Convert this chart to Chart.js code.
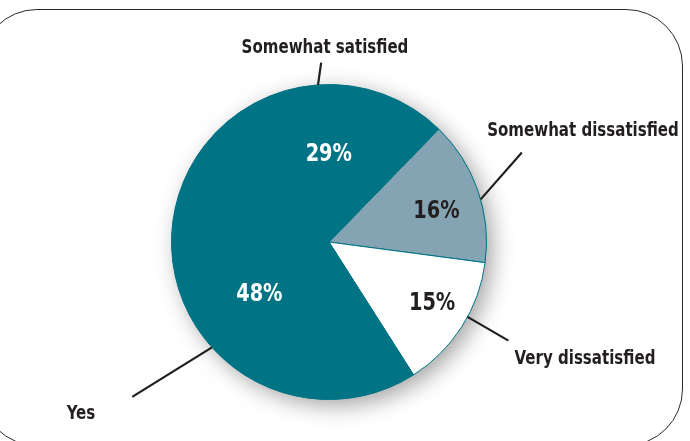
<!DOCTYPE html>
<html>
<head>
<meta charset="utf-8">
<script src="https://cdn.jsdelivr.net/npm/chart.js@4.4.1/dist/chart.umd.min.js"></script>
<style>
  html, body { margin: 0; padding: 0; background: #fff; }
  #wrap { position: relative; width: 690px; height: 441px; overflow: hidden; background: #fff; }
  #frame { position: absolute; left: -20px; top: 9px; width: 703px; height: 437px;
           border: 1.5px solid #2a2a2a; border-radius: 57px; box-sizing: border-box; }
  #c { position: absolute; left: 0; top: 0; }
</style>
</head>
<body>
<div id="wrap">
  <div id="frame"></div>
  <canvas id="c" width="690" height="441"></canvas>
</div>
<script>
// ---- data ----
const categories = ["Somewhat dissatisfied", "Very dissatisfied", "Yes", "Somewhat satisfied"];
const values = [16, 15, 48, 29];
const valueLabels = ["16%", "15%", "48%", "29%"];

// ---- style ----
const TEAL = "#007384";
const GREY = "#84a4b4";
const sliceColors = [GREY, "#ffffff", TEAL, TEAL];
const innerTextColors = ["#231f20", "#231f20", "#ffffff", "#ffffff"];
const innerRadiusFrac = [0.71, 0.76, 0.55, 0.565];
const innerAngleShift = [3, -2, 6, 4];   // degrees
// leader lines: [startAngleDeg, startR, endAngleDeg, endR] (r as fraction of radius)
const leaders = [
  [-15.7, 1.0, -24.9, 1.35],
  [28.4, 1.0, 28.8, 1.30],
  [138, 1.0, 141.8, 1.59],
  [-94, 1.0, -92.5, 1.14]
];
// outer label offsets from pie centre (px)
const outerOffsets = [[254, -111], [256, 117], [-248, 172], [-4, -194]];

const FONT = '"DejaVu Sans Condensed", "DejaVu Sans", sans-serif';

function condensedText(ctx, text, x, y, sx) {
  ctx.save();
  ctx.translate(x, y);
  ctx.scale(sx, 1);
  ctx.fillText(text, 0, 0);
  ctx.restore();
}

const shadowPlugin = {
  id: "shadow",
  beforeDatasetsDraw(chart) {
    const arc = chart.getDatasetMeta(0).data[0];
    const { x, y, outerRadius } = arc.getProps(["x", "y", "outerRadius"], true);
    const ctx = chart.ctx;
    ctx.save();
    ctx.shadowColor = "rgba(0,0,0,0.36)";
    ctx.shadowBlur = 22;
    ctx.shadowOffsetX = 6;
    ctx.shadowOffsetY = 6;
    ctx.beginPath();
    ctx.arc(x, y, outerRadius, 0, Math.PI * 2);
    ctx.fillStyle = TEAL;
    ctx.fill();
    ctx.restore();
  }
};

const labelPlugin = {
  id: "labels",
  afterDatasetsDraw(chart) {
    const ctx = chart.ctx;
    const meta = chart.getDatasetMeta(0);
    ctx.save();
    ctx.textAlign = "center";
    ctx.textBaseline = "middle";
    meta.data.forEach((arc, i) => {
      const p = arc.getProps(["x", "y", "startAngle", "endAngle", "outerRadius"], true);
      const mid = (p.startAngle + p.endAngle) / 2 + innerAngleShift[i] * Math.PI / 180;
      const r = p.outerRadius * innerRadiusFrac[i];
      ctx.font = 'bold 25px ' + FONT;
      ctx.fillStyle = innerTextColors[i];
      condensedText(ctx, valueLabels[i], p.x + Math.cos(mid) * r, p.y + Math.sin(mid) * r + 1, 0.86);

      // leader line
      const L = leaders[i];
      const a1 = L[0] * Math.PI / 180, a2 = L[2] * Math.PI / 180;
      ctx.beginPath();
      ctx.moveTo(p.x + Math.cos(a1) * p.outerRadius * L[1], p.y + Math.sin(a1) * p.outerRadius * L[1]);
      ctx.lineTo(p.x + Math.cos(a2) * p.outerRadius * L[3], p.y + Math.sin(a2) * p.outerRadius * L[3]);
      ctx.strokeStyle = "#1e1e1e";
      ctx.lineWidth = 2.2;
      ctx.stroke();

      // outer category label
      ctx.font = 'bold 19px ' + FONT;
      ctx.fillStyle = "#231f20";
      condensedText(ctx, categories[i], p.x + outerOffsets[i][0], p.y + outerOffsets[i][1], 0.88);
    });
    ctx.restore();
  }
};

new Chart(document.getElementById("c"), {
  type: "pie",
  data: {
    labels: categories,
    datasets: [{
      data: values,
      backgroundColor: sliceColors,
      borderColor: TEAL,
      borderWidth: 1,
      hoverOffset: 0
    }]
  },
  options: {
    responsive: false,
    animation: false,
    rotation: 44.2,
    layout: { padding: { left: 171, right: 203, top: 84, bottom: 41 } },
    plugins: {
      legend: { display: false },
      tooltip: { enabled: false },
      title: { display: false }
    }
  },
  plugins: [shadowPlugin, labelPlugin]
});
</script>
</body>
</html>
